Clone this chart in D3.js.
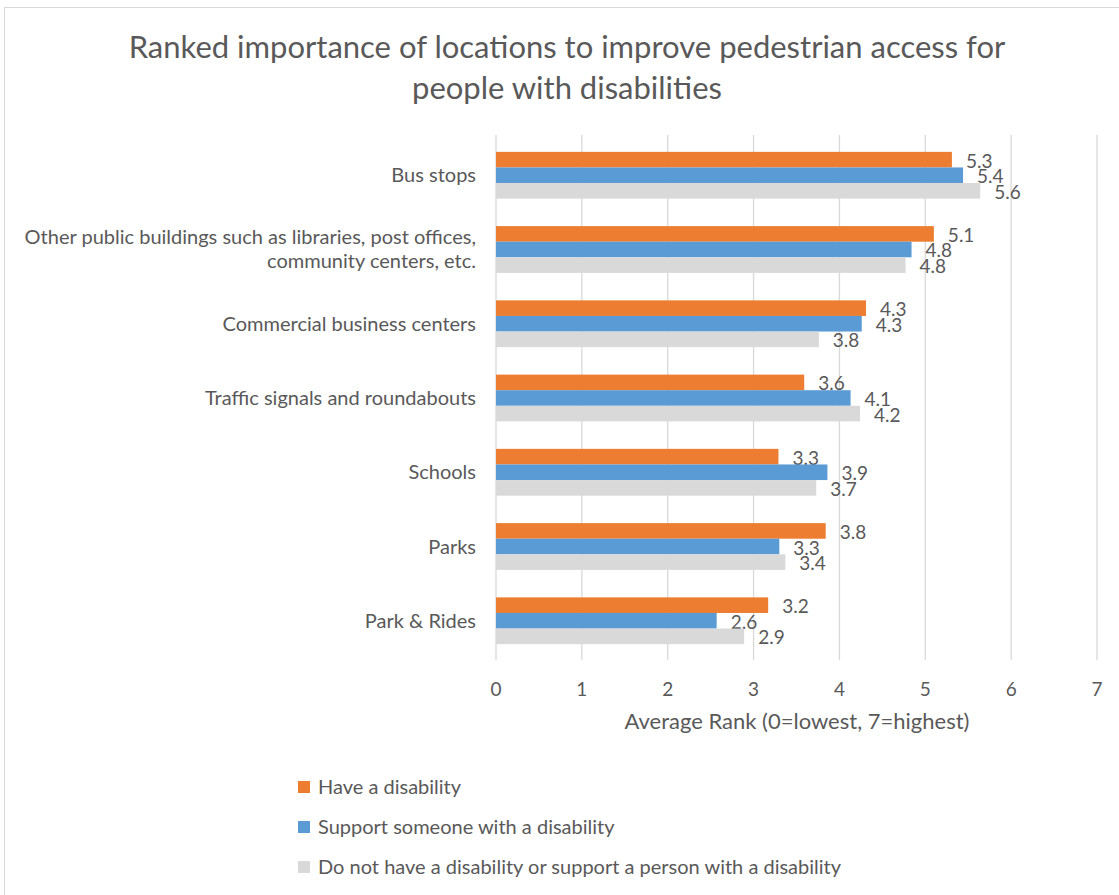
<!DOCTYPE html>
<html>
<head>
<meta charset="utf-8">
<script src="https://cdn.jsdelivr.net/npm/d3@7"></script>
<style>
  body { margin: 0; background: #fff; }
  text { font-family: Lato, "Open Sans", sans-serif; fill: #595959; }
</style>
</head>
<body>
<div id="chart"></div>
<script>
// data
let categories = ["Bus stops",
    "Other public buildings such as libraries, post offices,|community centers, etc.",
    "Commercial business centers",
    "Traffic signals and roundabouts",
    "Schools",
    "Parks",
    "Park & Rides"];
let seriesNames = ["Have a disability",
    "Support someone with a disability",
    "Do not have a disability or support a person with a disability"];
let haveDisability    = [5.31, 5.10, 4.31, 3.59, 3.29, 3.84, 3.17];
let supportSomeone    = [5.44, 4.84, 4.26, 4.13, 3.86, 3.30, 2.57];
let noDisability      = [5.64, 4.77, 3.76, 4.24, 3.73, 3.37, 2.89];
let xTicks = [0, 1, 2, 3, 4, 5, 6, 7];
let colors = ["#ED7D31", "#5B9BD5", "#D9D9D9"];

let width = 1119, height = 895;
let series = [haveDisability, supportSomeone, noDisability];

let svg = d3.select("#chart")
    .append("svg")
    .attr("width", width)
    .attr("height", height);

// chart border (right/bottom edges fall outside the picture)
svg.append("rect")
    .attr("x", 4.5).attr("y", 7.5)
    .attr("width", 1200).attr("height", 1000)
    .attr("fill", "none")
    .attr("stroke", "#d9d9d9");

// title
let title = svg.append("text")
    .attr("text-anchor", "middle")
    .style("font-size", "31px");
title.append("tspan").attr("x", 567).attr("y", 58)
    .text("Ranked importance of locations to improve pedestrian access for");
title.append("tspan").attr("x", 567).attr("y", 99)
    .text("people with disabilities");

let x = d3.scaleLinear()
    .domain([0, 7])
    .range([496, 1097]);

let y = d3.scaleBand()
    .domain(categories)
    .range([137, 659])
    .paddingInner(0.37)
    .paddingOuter(0.2);

let ySub = d3.scaleBand()
    .domain(d3.range(series.length))
    .range([0, y.bandwidth()]);

// gridlines
svg.append("g")
    .selectAll("line")
    .data(xTicks)
    .enter()
    .append("line")
    .attr("x1", d => x(d)).attr("x2", d => x(d))
    .attr("y1", 135).attr("y2", 660)
    .attr("stroke", "#d9d9d9")
    .attr("stroke-width", 1.3);

// x tick labels
svg.append("g")
    .selectAll("text")
    .data(xTicks)
    .enter()
    .append("text")
    .attr("x", d => x(d))
    .attr("y", 696)
    .attr("text-anchor", "middle")
    .style("font-size", "19px")
    .text(d => d);

// x axis title
svg.append("text")
    .attr("x", 797)
    .attr("y", 729)
    .attr("text-anchor", "middle")
    .style("font-size", "22px")
    .text("Average Rank (0=lowest, 7=highest)");

// category labels
let catLabels = svg.append("g")
    .selectAll("text")
    .data(categories)
    .enter()
    .append("text")
    .attr("text-anchor", "end")
    .style("font-size", "20px");
catLabels.each(function(d) {
    let lines = d.split("|");
    let cy = y(d) + y.bandwidth() / 2;
    let t = d3.select(this);
    lines.forEach(function(line, i) {
        t.append("tspan")
            .attr("x", 476)
            .attr("y", cy + 7 + (i - (lines.length - 1) / 2) * 24)
            .text(line);
    });
});

// bars and data labels
series.forEach(function(values, s) {
    let g = svg.append("g");
    g.selectAll("rect")
        .data(values)
        .enter()
        .append("rect")
        .attr("x", x(0))
        .attr("y", (d, i) => y(categories[i]) + ySub(s))
        .attr("width", d => x(d) - x(0))
        .attr("height", ySub.bandwidth())
        .attr("fill", colors[s]);
    g.selectAll("text")
        .data(values)
        .enter()
        .append("text")
        .attr("x", d => x(d) + 14)
        .attr("y", (d, i) => y(categories[i]) + ySub(s) + ySub.bandwidth() / 2 + 8)
        .style("font-size", "19px")
        .text(d => d.toFixed(1));
});

// legend
let legend = svg.append("g")
    .selectAll("g")
    .data(seriesNames)
    .enter()
    .append("g")
    .attr("transform", (d, i) => `translate(298, ${787 + i * 40})`);
legend.append("rect")
    .attr("x", 0).attr("y", -6)
    .attr("width", 12).attr("height", 12)
    .attr("fill", (d, i) => colors[i]);
legend.append("text")
    .attr("x", 20)
    .attr("y", 7)
    .style("font-size", "20px")
    .text(d => d);
</script>
</body>
</html>
